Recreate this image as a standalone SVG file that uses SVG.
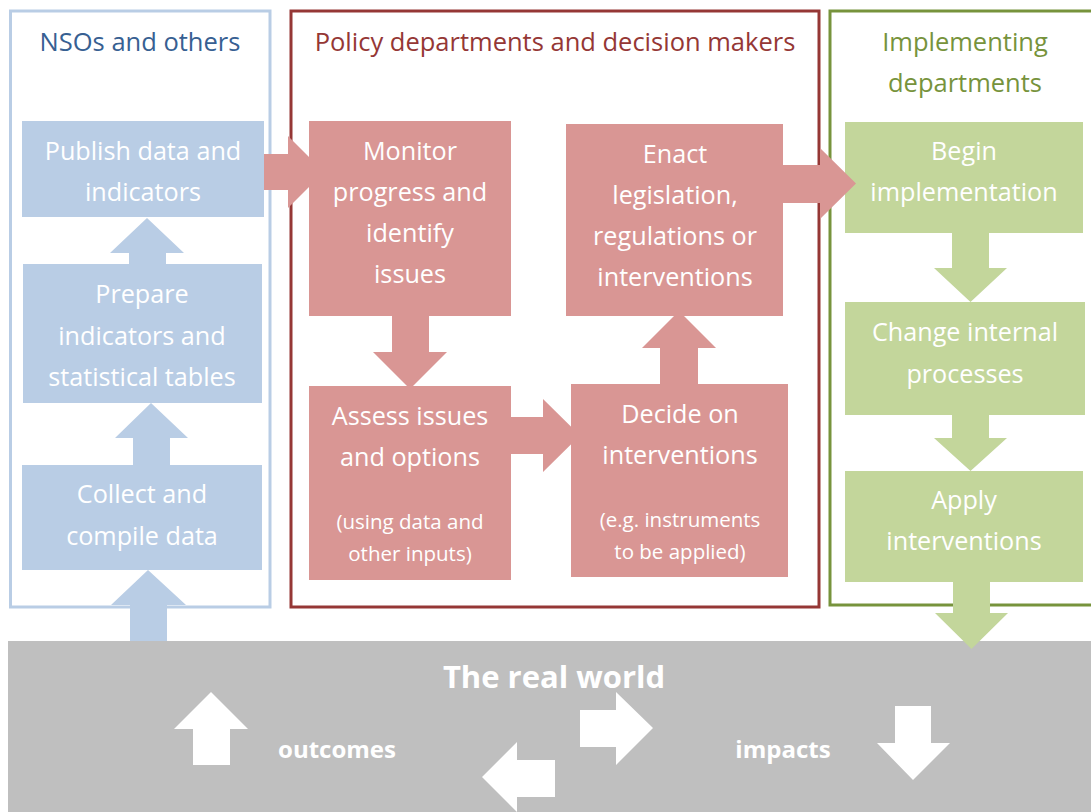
<svg xmlns="http://www.w3.org/2000/svg" width="1091" height="812" viewBox="0 0 1091 812">
<defs>
<style>
.bg{fill:#FFFFFF}
.cont{fill:none;stroke-width:3}
.blue{fill:#B9CDE5}
.red{fill:#D99694}
.green{fill:#C3D69B}
.gray{fill:#BFBFBF}
.wa{fill:#FFFFFF}
text{font-family:"Open Sans","Liberation Sans",Arial,sans-serif;text-anchor:middle}
.nt{fill:#FFFFFF;font-size:25.2px}
.st{fill:#FFFFFF;font-size:20.5px}
.hd{font-size:25.5px}
.gt{fill:#FFFFFF;font-weight:bold}
</style>
</defs>
<rect class="bg" x="0" y="0" width="1091" height="812"/>

<g id="containers">
<rect class="cont" x="10.5" y="11" width="259.5" height="596" stroke="#B9CDE5"/>
<rect class="cont" x="291" y="11" width="528" height="596" stroke="#953735"/>
<rect class="cont" x="830" y="11" width="300" height="594" stroke="#77933C"/>
<text class="hd" x="140" y="51" fill="#376092">NSOs and others</text>
<text class="hd" x="555" y="51" fill="#953735">Policy departments and decision makers</text>
<text class="hd" x="965" y="51" fill="#77933C">Implementing</text>
<text class="hd" x="965" y="92" fill="#77933C">departments</text>
</g>

<g id="real-world">
<rect class="gray" x="8" y="641" width="1083" height="171"/>
<text class="gt" x="554" y="688" font-size="31px">The real world</text>
<polygon class="wa" points="211,692 248,729 230,729 230,765 193,765 193,729 174,729"/>
<polygon class="wa" points="580,710 616,710 616,692 653,728 616,765 616,747 580,747"/>
<polygon class="wa" points="555,760 517,760 517,742 482,777 517,812 517,797 555,797"/>
<polygon class="wa" points="895,706 931,706 931,743 950,743 913,780 877,743 895,743"/>
<text class="gt" x="337" y="758" font-size="24px">outcomes</text>
<text class="gt" x="783" y="758" font-size="24px">impacts</text>
</g>

<g id="connectors">
<polygon class="blue" points="148,570 186,605 167,605 167,641 130,641 130,605 111,605"/>
<polygon class="blue" points="151,403 188,438 170,438 170,465 133,465 133,438 115,438"/>
<polygon class="blue" points="147,218 184,253 166,253 166,264 129,264 129,253 110,253"/>
<polygon class="red" points="262,154 288,154 288,136 324,172 288,208 288,190 262,190"/>
<polygon class="red" points="392,316 429,316 429,352 447,352 410,389 373,352 392,352"/>
<polygon class="red" points="511,417 543,417 543,399 580,435.5 543,472 543,454 511,454"/>
<polygon class="red" points="660,384 698,384 698,348 716,348 679,311 642,348 660,348"/>
<polygon class="green" points="952,233 989,233 989,268 1007,268 970.5,302 934,268 952,268"/>
<polygon class="green" points="952,415 989,415 989,438 1007,438 970.5,471 934,438 952,438"/>
</g>

<g id="publish">
<rect class="blue" x="22" y="121" width="242" height="96"/>
<text class="nt" x="143" y="160">Publish data and</text>
<text class="nt" x="143" y="201">indicators</text>
</g>
<g id="prepare">
<rect class="blue" x="23" y="264" width="239" height="139"/>
<text class="nt" x="142" y="303">Prepare</text>
<text class="nt" x="142" y="345">indicators and</text>
<text class="nt" x="142" y="386">statistical tables</text>
</g>
<g id="collect">
<rect class="blue" x="22" y="465" width="240" height="105"/>
<text class="nt" x="142" y="503">Collect and</text>
<text class="nt" x="142" y="545">compile data</text>
</g>

<g id="monitor">
<rect class="red" x="309" y="121" width="202" height="195"/>
<text class="nt" x="410" y="160">Monitor</text>
<text class="nt" x="410" y="201">progress and</text>
<text class="nt" x="410" y="242">identify</text>
<text class="nt" x="410" y="283">issues</text>
</g>
<g id="enact">
<rect class="red" x="566" y="124" width="217" height="192"/>
<text class="nt" x="675" y="163">Enact</text>
<text class="nt" x="675" y="204">legislation,</text>
<text class="nt" x="675" y="245">regulations or</text>
<text class="nt" x="675" y="286">interventions</text>
</g>
<g id="assess">
<rect class="red" x="309" y="386" width="202" height="194"/>
<text class="nt" x="410" y="425">Assess issues</text>
<text class="nt" x="410" y="466">and options</text>
<text class="st" x="410" y="529">(using data and</text>
<text class="st" x="410" y="561">other inputs)</text>
</g>
<g id="decide">
<rect class="red" x="571" y="384" width="217" height="193"/>
<text class="nt" x="680" y="423">Decide on</text>
<text class="nt" x="680" y="464">interventions</text>
<text class="st" x="680" y="527">(e.g. instruments</text>
<text class="st" x="680" y="559">to be applied)</text>
</g>

<g id="begin">
<rect class="green" x="845" y="122" width="238" height="111"/>
<text class="nt" x="964" y="160">Begin</text>
<text class="nt" x="964" y="201">implementation</text>
</g>
<g id="change">
<rect class="green" x="845" y="302" width="240" height="113"/>
<text class="nt" x="965" y="341">Change internal</text>
<text class="nt" x="965" y="383">processes</text>
</g>
<g id="apply">
<rect class="green" x="845" y="471" width="238" height="111"/>
<text class="nt" x="964" y="509">Apply</text>
<text class="nt" x="964" y="550">interventions</text>
</g>

<g id="connectors-front">
<polygon class="red" points="783,165 820,165 820,148 856,183.5 820,219 820,203 783,203"/>
<polygon class="green" points="953,582 990,582 990,613 1008,613 971.5,649 935,613 953,613"/>
</g>
</svg>
